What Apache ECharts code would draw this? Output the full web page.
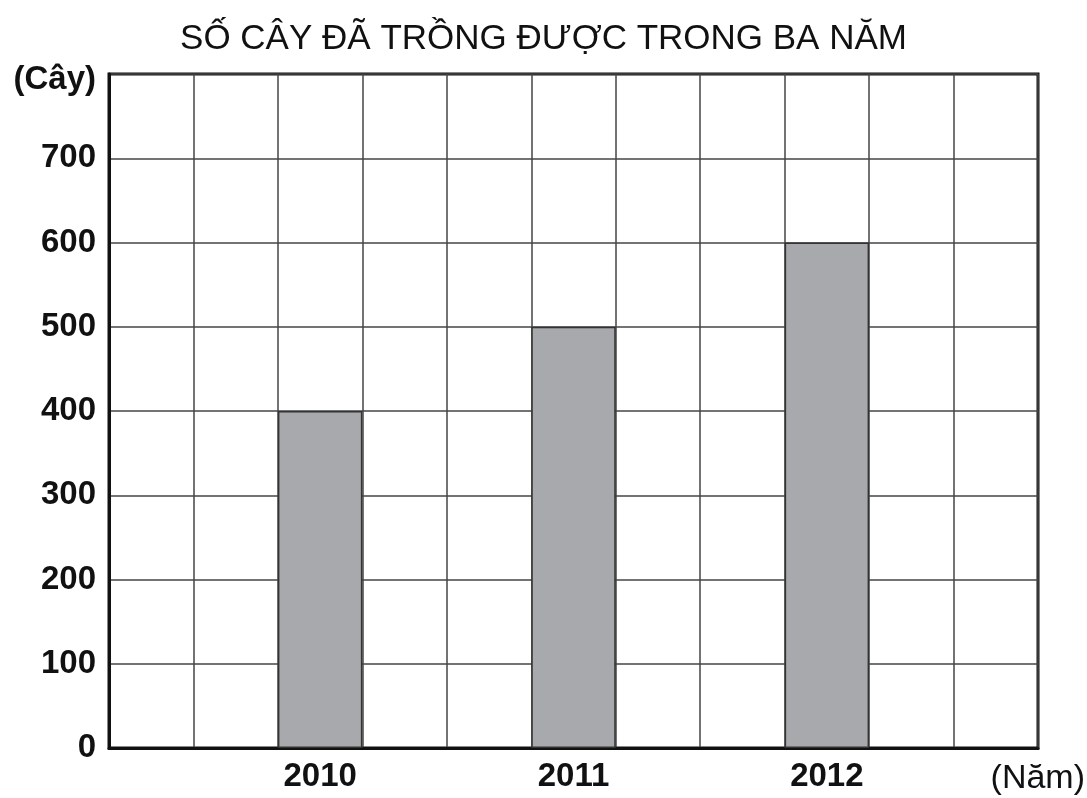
<!DOCTYPE html>
<html>
<head>
<meta charset="utf-8">
<script src="https://cdn.jsdelivr.net/npm/echarts@6/dist/echarts.min.js"></script>
<style>html,body{margin:0;padding:0;background:#fff;}#c{width:1087px;height:798px;}</style>
</head>
<body>
<div id="c"></div>
<script>
var titleText = 'SỐ CÂY ĐÃ TRỒNG ĐƯỢC TRONG BA NĂM';
var years = ['2010', '2011', '2012'];
var values = [400, 500, 600];
var yTicks = [0, 100, 200, 300, 400, 500, 600, 700, 800];
var yName = '(Cây)';
var xName = '(Năm)';
// 11 grid columns; bars sit in columns 3, 6, 9
var columnCount = 11;
var yearColumns = [2, 5, 8];

var cats = [];
var data = [];
for (var i = 0; i < columnCount; i++) { cats.push('c' + i); data.push(null); }
yearColumns.forEach(function (col, k) { cats[col] = years[k]; data[col] = values[k]; });

var chart = echarts.init(document.getElementById('c'), null, {renderer: 'canvas'});
var font = 'Liberation Sans';
chart.setOption({
  animation: false,
  backgroundColor: '#fff',
  title: {
    text: titleText, left: 'center', top: 17,
    textStyle: {fontFamily: font, fontWeight: 'normal', fontSize: 35, color: '#111'}
  },
  grid: {left: 109, right: 49, top: 74, bottom: 50, show: true, borderColor: '#111', borderWidth: 3, backgroundColor: 'transparent'},
  xAxis: {
    type: 'category', data: cats,
    axisLine: {show: true, lineStyle: {color: '#111', width: 3}},
    axisTick: {show: false},
    splitLine: {show: true, interval: 0, lineStyle: {color: '#444', width: 1.5}},
    axisLabel: {
      interval: 0, margin: 12,
      formatter: function (v) { return years.indexOf(v) >= 0 ? v : ''; },
      fontFamily: font, fontWeight: 'bold', fontSize: 33, color: '#111'
    }
  },
  yAxis: {
    type: 'value', min: yTicks[0], max: yTicks[yTicks.length - 1], interval: 100,
    axisLine: {show: true, lineStyle: {color: '#111', width: 3}},
    axisTick: {show: false},
    splitLine: {show: true, lineStyle: {color: '#444', width: 1.5}},
    axisLabel: {
      margin: 13,
      formatter: function (v) { return v === yTicks[yTicks.length - 1] ? '{n|' + yName + '}' : String(v); },
      fontFamily: font, fontWeight: 'bold', fontSize: 33, color: '#111',
      rich: {n: {fontFamily: font, fontWeight: 'bold', fontSize: 33, color: '#111', padding: [12, 0, 0, 0]}}
    }
  },
  graphic: [{
    type: 'text', right: 2, top: 762,
    style: {text: xName, fontFamily: font, fontWeight: 'normal', fontSize: 34, fill: '#111'}
  }],
  series: [{
    type: 'bar', data: data, barWidth: '100%', barGap: '0%',
    itemStyle: {color: '#a7a9ac', borderColor: '#333', borderWidth: 1.5}
  }]
});
</script>
</body>
</html>
